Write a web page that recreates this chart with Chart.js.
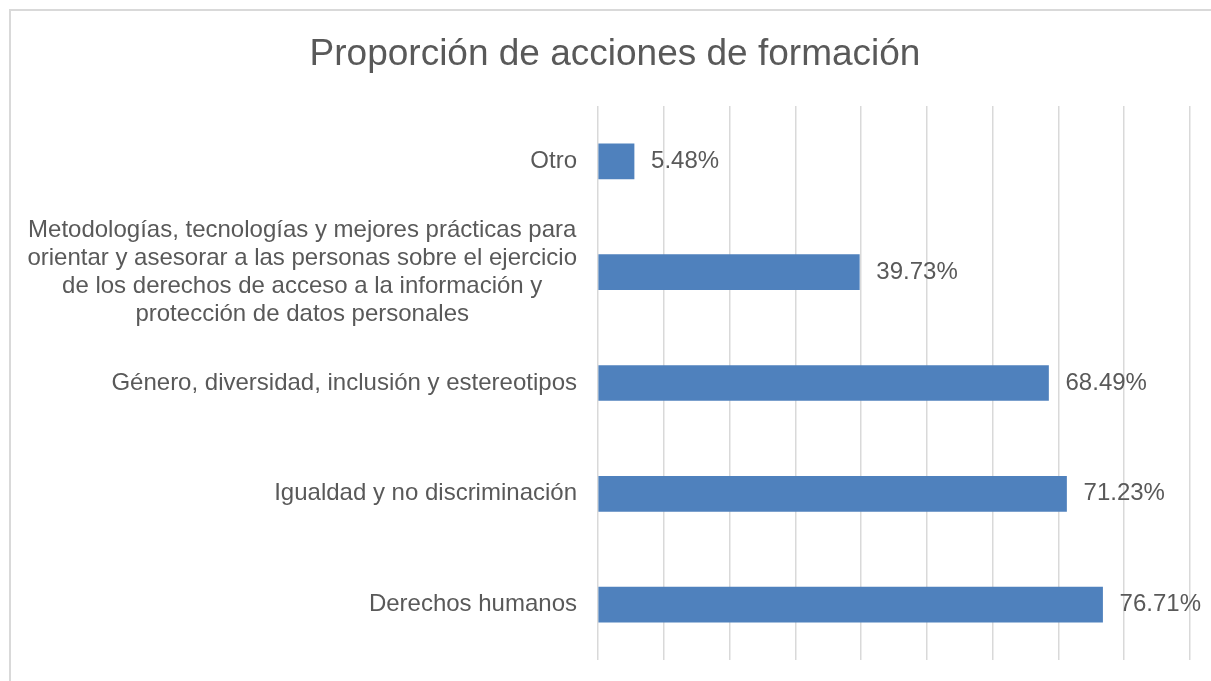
<!DOCTYPE html>
<html>
<head>
<meta charset="utf-8">
<script src="https://cdn.jsdelivr.net/npm/chart.js@4/dist/chart.umd.min.js"></script>
<style>
  html, body { margin: 0; padding: 0; background: #ffffff; overflow: hidden; }
  #wrap { position: absolute; left: 0; top: 0; width: 1211px; height: 681px; }
</style>
</head>
<body>
<div id="wrap"><canvas id="c"></canvas></div>
<script>
const titleText = 'Proporción de acciones de formación';
const categories = [
  ['Otro'],
  ['Metodologías, tecnologías y mejores prácticas para',
   'orientar y asesorar a las personas sobre el ejercicio',
   'de los derechos de acceso a la información y',
   'protección de datos personales'],
  ['Género, diversidad, inclusión y estereotipos'],
  ['Igualdad y no discriminación'],
  ['Derechos humanos']
];
const values = [5.48, 39.73, 68.49, 71.23, 76.71];
const xMin = 0, xMax = 90, xStep = 10;

const TEXT = '#595959';
const FONT = '"Liberation Sans", Arial, sans-serif';

const framePlugin = {
  id: 'frame',
  beforeDraw(chart) {
    const ctx = chart.ctx;
    ctx.save();
    ctx.strokeStyle = '#d9d9d9';
    ctx.lineWidth = 2;
    ctx.beginPath();
    ctx.moveTo(10, chart.height + 5);
    ctx.lineTo(10, 10);
    ctx.lineTo(chart.width + 5, 10);
    ctx.stroke();
    ctx.restore();
  }
};

const labelPlugin = {
  id: 'labels',
  afterDraw(chart) {
    const ctx = chart.ctx;
    const yScale = chart.scales.y;
    ctx.save();
    ctx.fillStyle = TEXT;
    ctx.font = '24px ' + FONT;
    ctx.textBaseline = 'middle';
    const right = 577;
    const lh = 28;
    categories.forEach((lines, i) => {
      const cy = yScale.getPixelForValue(i);
      let widest = 0;
      lines.forEach(l => { widest = Math.max(widest, ctx.measureText(l).width); });
      const centerX = right - widest / 2;
      ctx.textAlign = lines.length > 1 ? 'center' : 'right';
      lines.forEach((l, j) => {
        const y = cy + (j - (lines.length - 1) / 2) * lh;
        ctx.fillText(l, lines.length > 1 ? centerX : right, y);
      });
    });
    const meta = chart.getDatasetMeta(0);
    ctx.textAlign = 'left';
    meta.data.forEach((bar, i) => {
      ctx.fillText(values[i].toFixed(2) + '%', bar.x + 17, bar.y);
    });
    ctx.restore();
  }
};

new Chart(document.getElementById('c'), {
  type: 'bar',
  data: {
    labels: categories,
    datasets: [{
      data: values,
      backgroundColor: '#4F81BD',
      borderWidth: 0,
      barThickness: 35
    }]
  },
  options: {
    indexAxis: 'y',
    responsive: true,
    maintainAspectRatio: false,
    animation: false,
    layout: { padding: { left: 40, right: 21, top: 0, bottom: 21 } },
    plugins: {
      legend: { display: false },
      tooltip: { enabled: false },
      title: {
        display: true,
        text: titleText,
        color: TEXT,
        font: { family: FONT, size: 37, weight: 'normal' },
        padding: { top: 33, bottom: 28.6 }
      }
    },
    scales: {
      x: {
        min: xMin, max: xMax,
        ticks: { display: false, stepSize: xStep },
        grid: { color: '#d9d9d9', lineWidth: 1.5, drawTicks: false },
        border: { display: false },
        afterFit(scale) { scale.height = 0; }
      },
      y: {
        ticks: { display: false },
        grid: { display: false },
        border: { display: false },
        afterFit(scale) { scale.width = 558; }
      }
    }
  },
  plugins: [framePlugin, labelPlugin]
});
</script>
</body>
</html>
